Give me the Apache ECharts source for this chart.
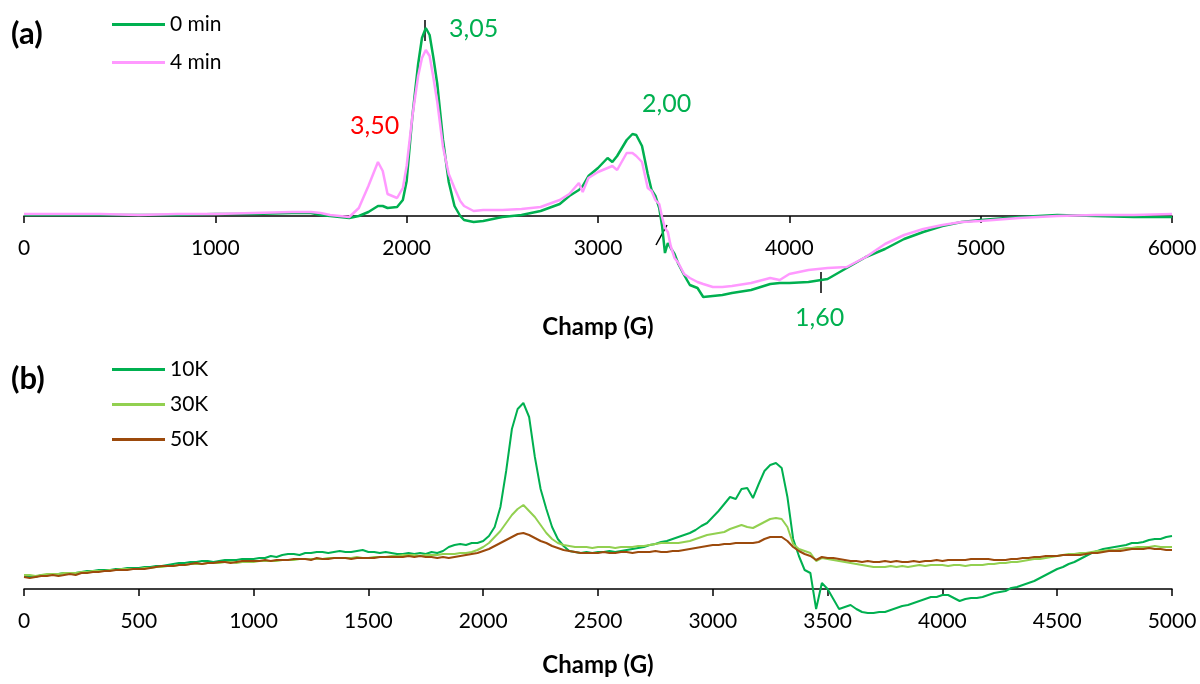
<!DOCTYPE html>
<html><head><meta charset="utf-8">
<script src="https://cdn.jsdelivr.net/npm/echarts@6/dist/echarts.min.js"></script>
<style>html,body{margin:0;padding:0;background:#fff}#c{width:1200px;height:684px}</style>
</head><body><div id="c"></div>
<script>
// ---------- Panel (a) ----------
const fieldA = [0,200,400,600,800,1000,1200,1400,1500,1550,1600,1650,1700,1750,1800,1850,1875,1900,1950,1980,
  2000,2030,2060,2080,2100,2120,2140,2160,2190,2220,2250,2280,2300,2350,2400,2500,2600,2700,2800,2850,
  2900,2920,2950,3000,3050,3075,3100,3150,3180,3200,3230,3260,3280,3300,3320,3335,3350,3365,3380,3400,
  3420,3450,3480,3520,3550,3600,3650,3700,3800,3900,3950,4000,4100,4200,4300,4400,4500,4600,4700,4800,
  4900,5000,5200,5400,5600,5800,6000];
const min0 = [1,1,1,1,1,2,2,3,3,1,0,-1,-2,0,4,10,10,8,9,16,
  35,100,152,178,188,181,158,132,76,34,10,0,-4,-6,-5,-1,1,5,12,20,
  26,30,40,48,58,54,60,76,82,81,70,42,26,20,8,-10,-37,-27,-32,-38,
  -48,-59,-69,-72,-81,-80,-79,-77,-74,-68,-67,-67,-66,-63,-52,-41,-33,-23,-16,-10,
  -6,-4,-1,1,0,-1,-1];
const min4 = [2,2,2,1,2,2,3,4,4,3,1,0,-1,8,30,54,45,22,18,28,
  50,100,140,158,166,160,138,114,69,42,28,15,10,5,6,6,7,9,16,22,
  33,24,38,44,48,50,46,63,63,60,54,28,25,16,12,-1,-12,-16,-30,-42,
  -47,-58,-62,-66,-68,-71,-71,-70,-67,-62,-64,-58,-54,-52,-51,-41,-28,-19,-13,-9,
  -6,-5,-2,0,1,1,2];
const namesA = ['0 min','4 min'];
const ticksA = {min:0, max:6000, step:1000};

// ---------- Panel (b) ----------
const fieldB = [0,25,50,75,100,125,150,175,200,225,250,275,300,325,350,375,400,425,450,475,
  500,525,550,575,600,625,650,675,700,725,750,775,800,825,850,875,900,925,950,975,
  1000,1025,1050,1075,1100,1125,1150,1175,1200,1225,1250,1275,1300,1325,1350,1375,1400,1425,1450,1475,
  1500,1525,1550,1575,1600,1625,1650,1675,1700,1725,1750,1775,1800,1825,1850,1875,1900,1925,1950,1975,
  2000,2025,2050,2075,2100,2125,2150,2175,2200,2225,2250,2275,2300,2325,2350,2375,2400,2425,2450,2475,
  2500,2525,2550,2575,2600,2625,2650,2675,2700,2725,2750,2775,2800,2825,2850,2875,2900,2925,2950,2975,
  3000,3025,3050,3075,3100,3125,3150,3175,3200,3225,3250,3275,3300,3325,3350,3375,3400,3425,3450,3475,
  3500,3525,3550,3575,3600,3625,3650,3675,3700,3725,3750,3775,3800,3825,3850,3875,3900,3925,3950,3975,
  4000,4025,4050,4075,4100,4125,4150,4175,4200,4225,4250,4275,4300,4325,4350,4375,4400,4425,4450,4475,
  4500,4525,4550,4575,4600,4625,4650,4675,4700,4725,4750,4775,4800,4825,4850,4875,4900,4925,4950,4975,
  5000];
const k10 = [13,13,12,14,14,15,15,16,16,16,17,18,18,19,19,19,20,20,21,21,
  21,22,22,23,23,24,25,26,26,27,27,28,28,27,28,29,29,29,30,30,
  30,31,31,33,32,34,35,35,34,36,36,37,37,36,37,38,37,37,38,39,
  37,37,36,37,36,35,35,36,35,36,35,37,36,38,42,44,45,44,46,46,
  48,53,62,82,118,160,180,186,172,132,100,80,62,50,43,38,37,36,37,36,
  37,37,38,37,38,39,40,41,42,44,45,47,48,50,52,54,56,59,63,66,
  72,78,85,92,90,100,101,91,105,118,124,126,121,92,50,33,19,16,-20,6,
  0,-10,-20,-18,-16,-20,-23,-24,-24,-23,-23,-21,-19,-17,-16,-14,-12,-10,-8,-8,
  -6,-6,-9,-12,-10,-9,-9,-8,-6,-4,-3,-2,1,2,4,6,8,11,14,17,
  20,22,25,27,30,33,36,38,40,41,42,43,44,46,46,47,49,50,50,52,
  53];
const k30 = [14,14,13,14,15,15,15,16,16,16,17,17,18,18,18,19,19,20,20,20,
  20,21,21,22,22,23,23,24,24,25,25,25,26,26,26,27,27,26,27,27,
  27,28,28,28,28,29,29,29,30,30,30,30,30,31,31,31,31,31,32,31,
  31,32,32,32,33,33,34,34,34,33,34,34,34,35,35,35,36,36,37,39,
  42,46,52,58,66,74,80,84,78,72,64,56,50,46,44,43,42,42,42,41,
  42,42,42,41,42,42,42,43,43,44,45,46,46,46,46,47,48,50,52,54,
  55,56,57,60,62,64,62,61,64,67,70,71,70,62,45,40,38,36,28,31,
  30,29,28,27,26,25,24,23,22,22,22,23,22,23,22,23,24,23,24,24,
  24,23,24,24,23,24,24,24,25,25,26,26,27,27,28,29,30,30,31,32,
  33,34,35,35,36,36,37,38,38,39,39,40,41,41,42,42,42,43,42,42,
  42];
const k50 = [12,11,12,13,13,14,13,14,15,14,16,16,17,17,18,18,19,19,19,20,
  20,20,21,22,23,23,23,24,24,25,26,25,26,26,27,27,26,27,28,28,
  28,28,29,28,29,29,29,30,30,30,29,31,30,30,31,31,31,30,31,31,
  31,31,32,32,32,32,32,33,32,33,32,32,31,32,31,32,33,34,35,36,
  38,40,43,46,49,52,55,56,54,51,48,46,43,41,39,38,37,36,36,36,
  36,37,36,36,37,37,36,37,37,37,38,37,37,38,38,39,40,41,42,43,
  44,44,45,45,46,46,46,46,47,50,52,52,52,48,42,38,35,33,29,32,
  31,31,30,29,28,28,27,28,27,27,28,27,28,27,27,28,27,28,28,29,
  28,29,29,29,29,30,30,30,30,29,29,29,30,30,31,31,32,32,33,33,
  33,34,34,34,34,35,36,36,37,38,38,38,39,40,40,40,41,40,40,39,
  39];
const namesB = ['10K','30K','50K'];
const ticksB = {min:0, max:5000, step:500};

const panelLabels = ['(a)','(b)'];
const peakLabels = ['3,05','3,50','2,00','1,60'];
const axisTitle = 'Champ (G)';

// ---------- Build ----------
const FONT = 'Lato';
const pair = (xs, ys) => xs.map((x, i) => [x, ys[i]]);
const chart = echarts.init(document.getElementById('c'), null, {renderer:'canvas'});

function xAxisCfg(gi, t, gap) {
  return {
    gridIndex: gi, type: 'value', min: t.min, max: t.max, interval: t.step, position: 'bottom',
    axisLine: {show: true, onZero: false, lineStyle: {color: '#000', width: 1.5}},
    axisTick: {show: true, length: 7, lineStyle: {color: '#000', width: 1.5}},
    axisLabel: {color: '#000', fontSize: 21, fontFamily: FONT, margin: 22, formatter: v => String(v)},
    splitLine: {show: false},
    name: axisTitle, nameLocation: 'middle', nameGap: gap,
    nameTextStyle: {fontWeight: 'bold', fontSize: 24, color: '#000', fontFamily: FONT}
  };
}
function yAxisCfg(gi, mn, mx) {
  return {gridIndex: gi, type: 'value', min: mn, max: mx,
    axisLine: {show: false}, axisTick: {show: false}, axisLabel: {show: false}, splitLine: {show: false}};
}
const lineS = (name, xi, data, color, w, z) => ({
  name, type: 'line', xAxisIndex: xi, yAxisIndex: xi, data, showSymbol: false, symbol: 'none', clip: false,
  lineStyle: {color, width: w}, itemStyle: {color}, z, animation: false
});
const legendCfg = (data, top, gap) => ({
  data, orient: 'vertical', left: 112, top, padding: 0, itemWidth: 53, itemHeight: 3, itemGap: gap, icon: 'rect',
  selectedMode: false,
  textStyle: {fontSize: 21, fontFamily: FONT, color: '#000', lineHeight: 21}
});
const txt = (s, x, y, color, size, bold) => ({
  type: 'text', left: x, top: y, style: {text: s, fill: color, font: (bold ? 'bold ' : '') + size + 'px ' + FONT}
});
const seg = (x1, y1, x2, y2) => ({type: 'line', shape: {x1, y1, x2, y2}, style: {stroke: '#000', lineWidth: 1.5}});

const gridBase = {left: 24, right: 28, containLabel: false, outerBoundsMode: 'none'};
chart.setOption({
  animation: false,
  grid: [Object.assign({top: 16, height: 200}, gridBase), Object.assign({top: 379, height: 210}, gridBase)],
  xAxis: [xAxisCfg(0, ticksA, 99), xAxisCfg(1, ticksB, 64)],
  yAxis: [yAxisCfg(0, 0, 200), yAxisCfg(1, 0, 210)],
  legend: [legendCfg(namesA, 14, 17), legendCfg(namesB, 359, 14)],
  series: [
    lineS(namesA[0], 0, pair(fieldA, min0), '#00B050', 2.5, 2),
    lineS(namesA[1], 0, pair(fieldA, min4), '#FF99FF', 2.5, 3),
    lineS(namesB[0], 1, pair(fieldB, k10), '#00B050', 2, 2),
    lineS(namesB[1], 1, pair(fieldB, k30), '#92D050', 2, 3),
    lineS(namesB[2], 1, pair(fieldB, k50), '#9C4A0C', 2, 4)
  ],
  graphic: [
    txt(panelLabels[0], 11, 18, '#000', 31, true),
    txt(panelLabels[1], 11, 363, '#000', 31, true),
    txt(peakLabels[0], 449, 16, '#00B050', 25, false),
    txt(peakLabels[1], 350, 113, '#FF0000', 25, false),
    txt(peakLabels[2], 642, 91, '#00B050', 25, false),
    txt(peakLabels[3], 795, 305, '#00B050', 25, false),
    seg(425, 20, 425, 41),
    seg(656, 245, 667, 225),
    seg(821, 272, 821, 293)
  ]
});
</script></body></html>
